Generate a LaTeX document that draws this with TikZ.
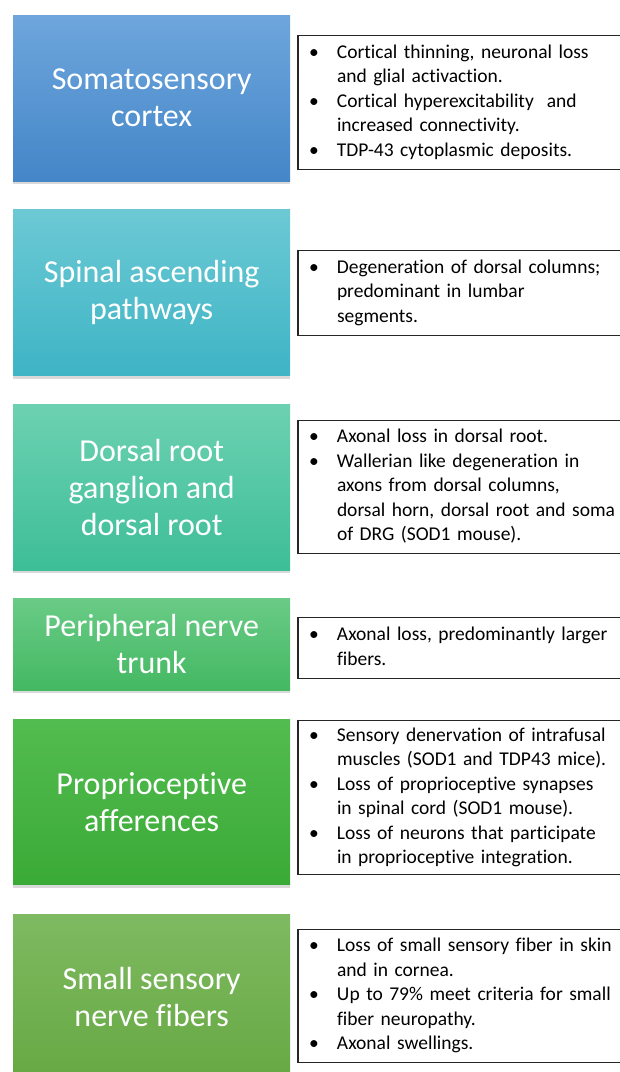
\documentclass[tikz,border=0pt]{standalone}
\usepackage{fontspec}
\setmainfont{Carlito}[Ligatures=NoCommon]
\usepackage{xcolor}
\usepackage{tikz}
\usetikzlibrary{positioning, shadows}

\definecolor{cortexTop}{HTML}{6EA6DC}
\definecolor{cortexBot}{HTML}{4486C8}
\definecolor{spinalTop}{HTML}{6CC9D4}
\definecolor{spinalBot}{HTML}{3EB4C5}
\definecolor{drgTop}{HTML}{6DD1B1}
\definecolor{drgBot}{HTML}{3DBE97}
\definecolor{nerveTop}{HTML}{69CB86}
\definecolor{nerveBot}{HTML}{44B862}
\definecolor{proprioTop}{HTML}{53BC50}
\definecolor{proprioBot}{HTML}{3AAA36}
\definecolor{fiberTop}{HTML}{7EBA61}
\definecolor{fiberBot}{HTML}{67A843}

\begin{document}
\begin{tikzpicture}[
    x=1pt, y=-1pt,
    level/.style={
      minimum width=277pt,
      minimum height=166pt,
      align=center,
      text=white,
      inner sep=4pt,
      font=\fontsize{32}{37}\selectfont,
      drop shadow={shadow xshift=0pt, shadow yshift=-3pt, opacity=0.3}
    },
    finding/.style={
      draw=black!85,
      line width=1.2pt,
      fill=white,
      anchor=west,
      text width=320pt,
      inner xsep=11pt,
      inner ysep=0pt,
      align=left,
      font=\fontsize{19.5}{24.5}\selectfont
    }
  ]

    \useasboundingbox (0,0) rectangle (620,1072);
    \clip (0,0) rectangle (620,1072);

    % Anatomical levels
    \node[level, anchor=north west, top color=cortexTop, bottom color=cortexBot] (cortex) at (13,15)
      {Somatosensory\\cortex};
    \node[level, below=28pt of cortex, top color=spinalTop, bottom color=spinalBot] (spinal)
      {Spinal ascending\\pathways};
    \node[level, below=28pt of spinal, top color=drgTop, bottom color=drgBot] (drg)
      {Dorsal root\\ganglion and\\dorsal root};
    \node[level, below=28pt of drg, minimum height=92pt, top color=nerveTop, bottom color=nerveBot] (nerve)
      {Peripheral nerve\\trunk};
    \node[level, below=29pt of nerve, minimum height=165pt, top color=proprioTop, bottom color=proprioBot] (proprio)
      {Proprioceptive\\afferences};
    \node[level, below=29pt of proprio, top color=fiberTop, bottom color=fiberBot] (fibers)
      {Small sensory\\nerve fibers};

    % Findings
    \node[finding, right=7pt of cortex, yshift=-4pt, minimum height=134pt] (cortexnote) {%
      \begin{tabular}{@{}p{28pt}@{}l@{}}
        \textbullet & Cortical thinning, neuronal loss\\
                    & and glial activaction.\\
        \textbullet & Cortical hyperexcitability\ \ and\\
                    & increased connectivity.\\
        \textbullet & TDP-43 cytoplasmic deposits.
      \end{tabular}};
    \node[finding, right=7pt of spinal, minimum height=85pt] (spinalnote) {%
      \begin{tabular}{@{}p{28pt}@{}l@{}}
        \textbullet & Degeneration of dorsal columns;\\
                    & predominant in lumbar\\
                    & segments.
      \end{tabular}};
    \node[finding, right=7pt of drg, minimum height=133pt] (drgnote) {%
      \begin{tabular}{@{}p{28pt}@{}l@{}}
        \textbullet & Axonal loss in dorsal root.\\
        \textbullet & Wallerian like degeneration in\\
                    & axons from dorsal columns,\\
                    & dorsal horn, dorsal root and soma\\
                    & of DRG (SOD1 mouse).
      \end{tabular}};
    \node[finding, right=7pt of nerve, yshift=-3.5pt, minimum height=61pt] (nervenote) {%
      \begin{tabular}{@{}p{28pt}@{}l@{}}
        \textbullet & Axonal loss, predominantly larger\\
                    & fibers.
      \end{tabular}};
    \node[finding, right=7pt of proprio, yshift=4.5pt, minimum height=154pt] (proprionote) {%
      \begin{tabular}{@{}p{28pt}@{}l@{}}
        \textbullet & Sensory denervation of intrafusal\\
                    & muscles (SOD1 and TDP43 mice).\\
        \textbullet & Loss of proprioceptive synapses\\
                    & in spinal cord (SOD1 mouse).\\
        \textbullet & Loss of neurons that participate\\
                    & in proprioceptive integration.
      \end{tabular}};
    \node[finding, right=7pt of fibers, yshift=1.5pt, minimum height=133pt] (fibersnote) {%
      \begin{tabular}{@{}p{28pt}@{}l@{}}
        \textbullet & Loss of small sensory fiber in skin\\
                    & and in cornea.\\
        \textbullet & Up to 79\% meet criteria for small\\
                    & fiber neuropathy.\\
        \textbullet & Axonal swellings.
      \end{tabular}};

  \end{tikzpicture}
\end{document}
